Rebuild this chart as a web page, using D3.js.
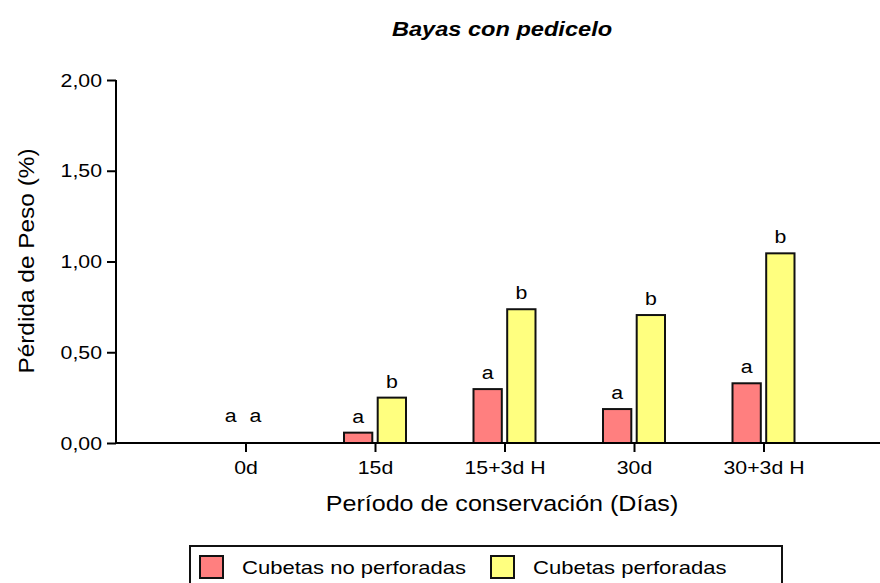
<!DOCTYPE html>
<html>
<head>
<meta charset="utf-8">
<script src="https://cdn.jsdelivr.net/npm/d3@7"></script>
<style>
	body { margin: 0; background: #fff; }
	svg { font-family: "Liberation Sans", Arial, sans-serif; }
</style>
</head>
<body>
<svg id="chart" width="880" height="583"></svg>
<script>
// datos
const periods = ["0d", "15d", "15+3d H", "30d", "30+3d H"];
const series = ["Cubetas no perforadas", "Cubetas perforadas"];
const noPerforadas = [0, 0.057, 0.297, 0.187, 0.329];
const perforadas = [0, 0.25, 0.737, 0.705, 1.045];
const letrasNoPerf = ["a", "a", "a", "a", "a"];
const letrasPerf = ["a", "b", "b", "b", "b"];
const yTicks = [0, 0.5, 1, 1.5, 2];
const colors = ["#ff7f7f", "#ffff7f"];

const svg = d3.select("#chart");
const plotLeft = 116, plotRight = 880, plotTop = 80, plotBottom = 443;
const SX = 1.12; // el texto original sale algo ensanchado

const x = d3.scalePoint().domain(periods).range([245.5, 763.5]);
const xs = d3.scaleBand().domain(series).range([-31, 31]).paddingInner(0.16);
const y = d3.scaleLinear().domain([0, 2]).range([plotBottom, plotTop]);

const fmt = d => d3.format(".2f")(d).replace(".", ",");

function label(g, px, py, txt, size, anchor, sx) {
	return g.append("text")
		.attr("transform", `translate(${px},${py}) scale(${sx || SX},1)`)
		.attr("text-anchor", anchor || "middle")
		.style("font-size", size + "px")
		.text(txt);
}

// titulo
label(svg, 502, 36, "Bayas con pedicelo", 20, "middle", 1.18)
	.style("font-weight", "bold").style("font-style", "italic");

// barras
const rows = periods.map((p, i) => [
	{ p, s: series[0], v: noPerforadas[i], l: letrasNoPerf[i], c: colors[0] },
	{ p, s: series[1], v: perforadas[i], l: letrasPerf[i], c: colors[1] }
]).flat();

svg.append("g").selectAll("rect")
	.data(rows.filter(d => d.v > 0))
	.join("rect")
	.attr("x", d => x(d.p) + xs(d.s))
	.attr("y", d => y(d.v))
	.attr("width", xs.bandwidth())
	.attr("height", d => y(0) - y(d.v))
	.attr("fill", d => d.c)
	.attr("stroke", "#111")
	.attr("stroke-width", 2);

const letras = svg.append("g");
rows.forEach(d => {
	const lx = x(d.p) + xs(d.s) + xs.bandwidth() / 2 + (d.v === 0 ? (d.s === series[0] ? 2 : -7) : 0);
	const ly = y(d.v) - (d.v === 0 ? 21 : 10);
	label(letras, lx, ly, d.l, 19);
});

// eje y
const yAxis = svg.append("g")
	.attr("transform", `translate(${plotLeft},0)`)
	.call(d3.axisLeft(y).tickValues(yTicks).tickFormat(fmt).tickSize(9).tickPadding(5));
yAxis.select(".domain").attr("d", `M0,${plotTop}V${plotBottom}`).attr("stroke-width", 2);
yAxis.selectAll(".tick line").attr("stroke-width", 2);
yAxis.selectAll(".tick text")
	.style("font-size", "19px").attr("fill", "#000")
	.attr("x", -14 / SX).attr("transform", `scale(${SX},1)`);
yAxis.attr("font-family", null).attr("font-size", null);

// eje x
const xAxis = svg.append("g")
	.attr("transform", `translate(0,${plotBottom})`)
	.call(d3.axisBottom(x).tickSize(9).tickPadding(9));
xAxis.select(".domain").attr("d", `M${plotLeft},0H${plotRight}`).attr("stroke-width", 2);
xAxis.selectAll(".tick line").attr("stroke-width", 2);
xAxis.selectAll(".tick text")
	.style("font-size", "19px").attr("fill", "#000")
	.attr("transform", `scale(${SX},1)`);
xAxis.attr("font-family", null).attr("font-size", null);

// titulos de ejes
label(svg, 502, 511, "Período de conservación (Días)", 22, "middle", 1.14);

svg.append("text")
	.attr("transform", `translate(34,261) rotate(-90) scale(1.11,1)`)
	.attr("text-anchor", "middle")
	.style("font-size", "22px")
	.text("Pérdida de Peso (%)");

// leyenda
const legend = svg.append("g");
legend.append("rect")
	.attr("x", 190).attr("y", 546).attr("width", 592).attr("height", 50)
	.attr("fill", "none").attr("stroke", "#111").attr("stroke-width", 2);
const legX = [200, 491];
series.forEach((s, i) => {
	legend.append("rect")
		.attr("x", legX[i]).attr("y", 556).attr("width", 23).attr("height", 22)
		.attr("fill", colors[i]).attr("stroke", "#111").attr("stroke-width", 2);
	label(legend, legX[i] + 42, 574, s, 19, "start", 1.16);
});
</script>
</body>
</html>
